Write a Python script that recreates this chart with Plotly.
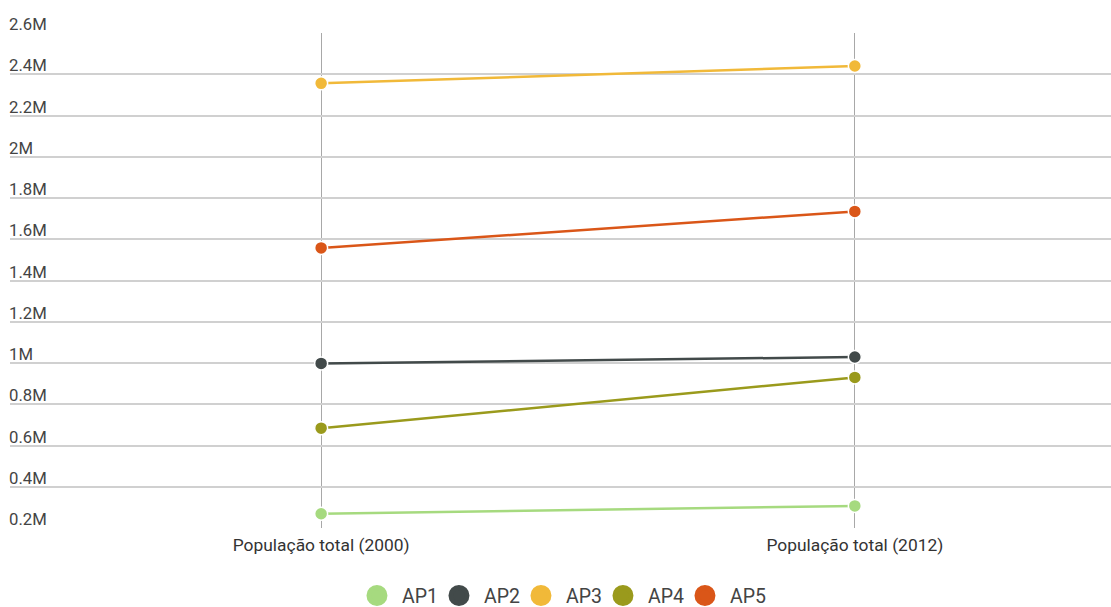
import plotly.graph_objects as go

categories = ["População total (2000)", "População total (2012)"]
series_names = ["AP1", "AP2", "AP3", "AP4", "AP5"]
ap1 = [269000, 307000]
ap2 = [998000, 1029000]
ap3 = [2356000, 2440000]
ap4 = [684000, 930000]
ap5 = [1558000, 1735000]
series_values = [ap1, ap2, ap3, ap4, ap5]
colors = ["#a6da7f", "#424a4a", "#f1b939", "#9a9a1c", "#da5618"]
y_tick_vals = [200000, 400000, 600000, 800000, 1000000, 1200000, 1400000,
               1600000, 1800000, 2000000, 2200000, 2400000, 2600000]
y_tick_text = ["0.2M", "0.4M", "0.6M", "0.8M", "1M", "1.2M", "1.4M",
               "1.6M", "1.8M", "2M", "2.2M", "2.4M", "2.6M"]

fig = go.Figure()
for name, vals, col in zip(series_names, series_values, colors):
    fig.add_trace(go.Scatter(
        x=categories, y=vals, name=name, mode="lines+markers",
        line=dict(color=col, width=2.5),
        marker=dict(color=col, size=13, line=dict(color="white", width=1.5)),
        showlegend=False, cliponaxis=False,
    ))
for name, col in zip(series_names, colors):
    fig.add_trace(go.Scatter(
        x=[None], y=[None], name=name, mode="markers",
        marker=dict(color=col, size=20, line=dict(color=col, width=5)),
        showlegend=True,
    ))
# empty spacer entry so the last legend label is not clipped
fig.add_trace(go.Scatter(
    x=[None], y=[None], name=" ", mode="markers",
    marker=dict(color="rgba(0,0,0,0)", size=1), showlegend=True,
))

fig.update_layout(
    width=1111, height=607,
    margin=dict(l=10, r=0, t=33, b=79, autoexpand=False),
    paper_bgcolor="white", plot_bgcolor="white",
    font=dict(family="Roboto", color="#444444"),
    showlegend=True,
    legend=dict(
        orientation="h", x=0.3106, xanchor="left", y=-0.137, yanchor="middle",
        font=dict(size=19.5, color="#444444"),
        itemwidth=40,
        entrywidth=27, entrywidthmode="pixels",
        bgcolor="rgba(0,0,0,0)",
        itemclick=False, itemdoubleclick=False,
    ),
    xaxis=dict(
        type="category", range=[-0.583, 1.48],
        showgrid=True, gridcolor="#a8a8a8", gridwidth=1,
        zeroline=False, showline=False, automargin=False,
        ticks="outside", ticklen=1, tickcolor="rgba(0,0,0,0)",
        tickfont=dict(size=17.4, color="#333333"),
        fixedrange=True,
    ),
    yaxis=dict(
        range=[200000, 2600000],
        tickvals=y_tick_vals, ticktext=y_tick_text,
        ticklabelposition="inside top", ticklabeloverflow="allow",
        ticklabelstandoff=-4, ticklabelshift=3,
        showgrid=True, gridcolor="#d0d0d0", gridwidth=1.5,
        zeroline=False, showline=False, automargin=False,
        tickfont=dict(size=16.7, color="#444444"),
        fixedrange=True,
    ),
)

fig.write_html("out.html", config={"displayModeBar": False},
               post_script="document.body.style.margin='0px';")
